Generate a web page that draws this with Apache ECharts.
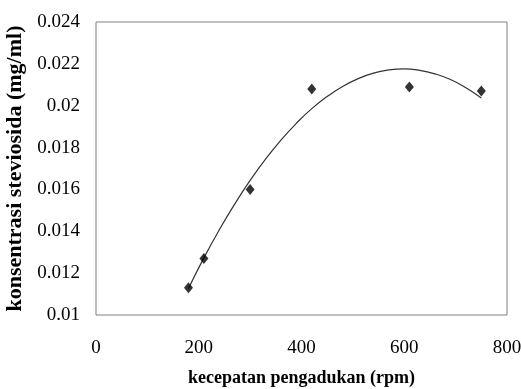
<!DOCTYPE html>
<html>
<head>
<meta charset="utf-8">
<script src="https://cdn.jsdelivr.net/npm/echarts@6/dist/echarts.min.js"></script>
<style>html,body{margin:0;padding:0;background:#fff;}#c{width:521px;height:389px;}</style>
</head>
<body>
<div id="c"></div>
<script>
// Measured points
var speedRpm = [180, 210, 300, 420, 610, 750];
var concentration = [0.0113, 0.0127, 0.0160, 0.0208, 0.0209, 0.0207];
// Polynomial trendline
var trendX = [180, 210, 240, 270, 300, 330, 360, 390, 420, 450, 480, 510, 540, 570, 600, 630, 660, 690, 720, 750];
var trendY = [0.01127, 0.01273, 0.01407, 0.01530, 0.01643, 0.01745, 0.01836, 0.01916, 0.01986, 0.02044, 0.02092, 0.02129, 0.02156, 0.02171, 0.02176, 0.02169, 0.02152, 0.02125, 0.02086, 0.02037];
var xTicks = [0, 200, 400, 600, 800];
var yTicks = [0.01, 0.012, 0.014, 0.016, 0.018, 0.02, 0.022, 0.024];
var xTitle = 'kecepatan pengadukan (rpm)';
var yTitle = 'konsentrasi steviosida (mg/ml)';

function zip(a, b) { return a.map(function (v, i) { return [v, b[i]]; }); }

var font = '"Liberation Serif", "Times New Roman", serif';
var chart = echarts.init(document.getElementById('c'), null, {renderer: 'canvas'});
chart.setOption({
  animation: false,
  backgroundColor: '#ffffff',
  grid: {left: 96, right: 14, top: 22, bottom: 74, containLabel: false, outerBoundsMode: 'none',
    show: true, borderColor: '#808080', borderWidth: 1, backgroundColor: 'transparent'},
  xAxis: {
    type: 'value', min: xTicks[0], max: xTicks[xTicks.length - 1], interval: 200,
    name: xTitle, nameLocation: 'middle', nameGap: 54,
    nameTextStyle: {fontFamily: font, fontWeight: 'bold', fontSize: 18, color: '#000'},
    axisLine: {show: false}, axisTick: {show: false}, splitLine: {show: false},
    axisLabel: {fontFamily: font, fontSize: 19, color: '#000', margin: 24}
  },
  yAxis: {
    type: 'value', min: yTicks[0], max: yTicks[yTicks.length - 1], interval: 0.002,
    name: yTitle, nameLocation: 'middle', nameGap: 68,
    nameTextStyle: {fontFamily: font, fontWeight: 'bold', fontSize: 22, color: '#000'},
    axisLine: {show: false}, axisTick: {show: false}, splitLine: {show: false},
    axisLabel: {fontFamily: font, fontSize: 19, color: '#000', margin: 16,
      formatter: function (v) { return String(parseFloat(v.toFixed(3))); }}
  },
  series: [
    {
      type: 'line', data: zip(trendX, trendY), smooth: true, showSymbol: false,
      lineStyle: {color: '#333333', width: 1.2}, z: 2
    },
    {
      type: 'scatter', data: zip(speedRpm, concentration), symbol: 'diamond', symbolSize: [9, 11],
      itemStyle: {color: '#000000'}, z: 3
    }
  ]
});
</script>
</body>
</html>
